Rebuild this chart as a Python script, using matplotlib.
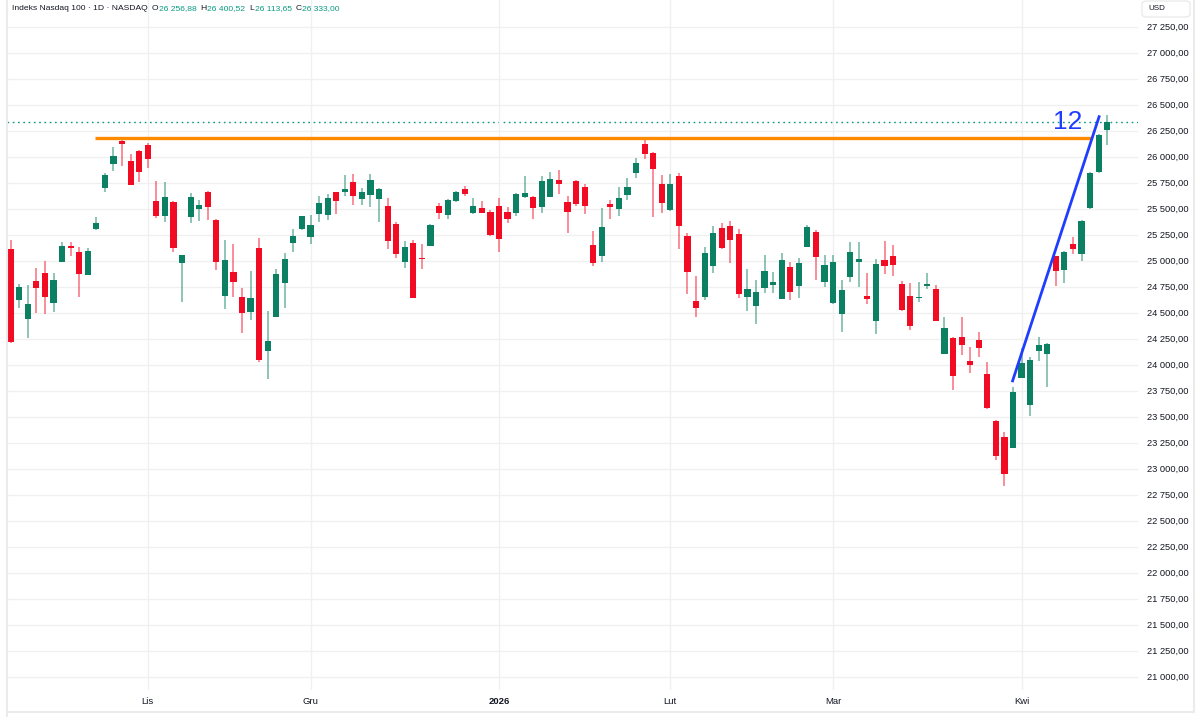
import numpy as np
import matplotlib.pyplot as plt
from matplotlib.lines import Line2D
from matplotlib.patches import FancyBboxPatch

W, H = 1200, 717

# daily OHLC, Nasdaq 100, 10 Oct 2025 .. mid Apr 2026
opens = [25110, 24620, 24440, 24805, 24880, 24595, 24990, 25140, 25085, 24865,
         25305, 25700, 25930, 26150, 25960, 26055, 26115, 25575, 25430, 25565,
         24980, 25420, 25495, 25660, 25390, 24660, 24890, 24650, 24505, 25120,
         24130, 24460, 24785, 25170, 25305, 25230, 25450, 25440, 25660, 25660,
         25755, 25595, 25630, 25595, 25525, 25355, 24990, 25170, 25025, 25140,
         25525, 25440, 25575, 25690, 25460, 25505, 25470, 25525, 25470, 25460,
         25615, 25615, 25515, 25615, 25775, 25565, 25765, 25710, 25150, 25045,
         25545, 25495, 25630, 25845, 26120, 26035, 25740, 25490, 25815, 25240,
         24615, 24650, 24950, 25315, 25335, 25255, 24650, 24565, 24740, 24765,
         24630, 24940, 24755, 25130, 25275, 24795, 24595, 24490, 24845, 24990,
         24660, 24420, 25005, 25045, 24775, 24660, 24640, 24755, 24730, 24105,
         24255, 24265, 24035, 24240, 23910, 23460, 23305, 23200, 23875, 23615,
         24130, 24105, 25045, 24910, 25160, 25065, 25505, 25855, 26256.88]
highs = [25200, 24775, 24765, 24930, 25000, 24880, 25180, 25180, 25130, 25120,
         25420, 25845, 26095, 26185, 26025, 26065, 26135, 25765, 25755, 25570,
         25060, 25650, 25585, 25670, 25400, 25200, 25160, 24740, 24900, 25220,
         24515, 24920, 25075, 25305, 25435, 25440, 25620, 25640, 25665, 25825,
         25835, 25700, 25835, 25700, 25605, 25370, 25190, 25200, 25160, 25355,
         25555, 25595, 25670, 25720, 25605, 25575, 25490, 25605, 25515, 25650,
         25815, 25620, 25815, 25855, 25870, 25620, 25775, 25740, 25285, 25505,
         25585, 25710, 25795, 25990, 26170, 26045, 25825, 25835, 25845, 25265,
         24855, 25130, 25335, 25365, 25380, 25305, 24920, 24815, 25055, 24890,
         25075, 24990, 25025, 25345, 25295, 25055, 25055, 24815, 25180, 25180,
         24880, 25015, 25190, 25150, 24805, 24785, 24795, 24880, 24765, 24460,
         24265, 24460, 24170, 24315, 24025, 23470, 23355, 23785, 24160, 24075,
         24265, 24205, 25050, 25090, 25230, 25390, 25850, 26220, 26400.52]
lows = [24210, 24545, 24255, 24495, 24490, 24505, 24985, 25045, 24650, 24860,
        25295, 25660, 25865, 25915, 25725, 25760, 25895, 25410, 25370, 25085,
        24605, 25365, 25380, 25390, 24910, 24535, 24650, 24305, 24430, 24025,
        23865, 24455, 24545, 25085, 25295, 25160, 25370, 25390, 25450, 25620,
        25535, 25535, 25515, 25370, 25115, 25025, 24930, 24640, 24920, 25140,
        25400, 25400, 25565, 25620, 25450, 25455, 25240, 25085, 25365, 25430,
        25605, 25400, 25460, 25610, 25640, 25265, 25525, 25450, 24950, 24985,
        25400, 25430, 25585, 25795, 25980, 25420, 25460, 25480, 25115, 24680,
        24460, 24620, 24880, 25115, 24980, 24640, 24515, 24390, 24690, 24690,
        24630, 24620, 24640, 25130, 24815, 24745, 24585, 24315, 24795, 24745,
        24585, 24295, 24870, 24855, 24515, 24335, 24605, 24730, 24420, 24100,
        23755, 24095, 23920, 24075, 23575, 23085, 22835, 23195, 23870, 23505,
        24035, 23785, 24755, 24785, 25065, 24995, 25500, 25845, 26113.65]
closes = [24220, 24750, 24585, 24740, 24650, 24815, 25140, 25120, 24870, 25095,
          25365, 25825, 26010, 26120, 25730, 25855, 25980, 25430, 25615, 25120,
          25055, 25615, 25535, 25515, 24990, 25005, 24795, 24495, 24640, 24045,
          24230, 24870, 25015, 25240, 25430, 25345, 25555, 25605, 25575, 25690,
          25620, 25660, 25775, 25690, 25190, 25065, 25130, 24640, 25015, 25345,
          25460, 25585, 25660, 25640, 25525, 25460, 25245, 25210, 25400, 25640,
          25650, 25505, 25765, 25785, 25740, 25470, 25545, 25525, 24980, 25325,
          25515, 25605, 25710, 25940, 26025, 25880, 25555, 25740, 25335, 24890,
          24545, 25075, 25265, 25120, 25200, 24680, 24730, 24700, 24900, 24795,
          25005, 24700, 24980, 25325, 25035, 24960, 24990, 24720, 25085, 25015,
          24630, 24970, 24950, 24960, 24525, 24370, 24650, 24775, 24420, 24355,
          23890, 24190, 24000, 24160, 23585, 23125, 22950, 23740, 24015, 24045,
          24190, 24200, 24900, 25085, 25115, 25380, 25845, 26210, 26333.00]

# first bar of each month (bar index)
month_pos = [16, 35, 57, 77, 96, 118]
month_labels = ['Lis', 'Gru', '2026', 'Lut', 'Mar', 'Kwi']
y_ticks = list(range(21000, 27251, 250))

resistance = 26180
resistance_from, resistance_to = 9.8, 126.2
trend_x = [116.95, 127.05]
trend_y = [23845, 26385]

green = '#0b8062'
red = '#f20c23'
teal = '#089981'
txt = '#131722'

plt.rcParams['font.family'] = ['Liberation Sans', 'DejaVu Sans']

fig = plt.figure(figsize=(12, 7.17), dpi=100)
ax = fig.add_axes([7 / W, 1 - 690 / H, 1131 / W, 690 / H])
ax.set_xlim(-0.43, 131.59)
ax.set_ylim(20873, 27507)

o = np.array(opens)
h = np.array(highs)
l = np.array(lows)
c = np.array(closes)
x = np.arange(len(o))
cols = np.where(c >= o, green, red)

ax.vlines(x, l, h, colors=cols, alpha=0.5, lw=1.3, zorder=2)
body = np.maximum(np.abs(c - o), 12)
bottom = (o + c) / 2 - body / 2
ax.bar(x, body, width=0.72, bottom=bottom, color=cols, zorder=3)

# last price line
ax.axhline(closes[-1], color=teal, lw=1, ls=(0, (1.2, 2.6)), zorder=1)

# drawings
ax.hlines(resistance, resistance_from, resistance_to, color='#ff8a00', lw=2.4, zorder=4)
ax.plot(trend_x, trend_y, color='#1f3dff', lw=2, zorder=5)
ax.text(123.4, 26334, '12', color='#1f3dff', fontsize=19, ha='center', va='center', zorder=6)

# axes / grid
ax.set_yticks(y_ticks)
ax.set_yticklabels([f'{v:,.2f}'.replace(',', ' ').replace('.', ',') for v in y_ticks])
ax.set_xticks(month_pos, month_labels)
ax.get_xticklabels()[2].set_fontweight('bold')
ax.yaxis.tick_right()
ax.grid(True, color='#f0f0f0', lw=1, zorder=0)
ax.tick_params(axis='y', length=0, pad=6.3, labelsize=6.7, labelcolor=txt)
ax.tick_params(axis='x', length=0, pad=5, labelsize=6.8, labelcolor=txt)
for s in ax.spines.values():
    s.set_visible(False)

# header legend, pieces chained left to right
fig.canvas.draw()
rend = fig.canvas.get_renderer()
hy = 1 - 9 / H
xpos = 12
pieces = [('Indeks Nasdaq 100 · 1D · NASDAQ', txt, 4),
          ('O', txt, 0.5), ('26 256,88', teal, 4),
          ('H', txt, 0.5), ('26 400,52', teal, 4),
          ('L', txt, 0.5), ('26 113,65', teal, 4),
          ('C', txt, 0.5), ('26 333,00', teal, 0)]
for s, col, gap in pieces:
    t = fig.text(xpos / W, hy, s, fontsize=6.1, color=col, va='center')
    xpos += t.get_window_extent(rend).width + gap

# currency box
fig.add_artist(FancyBboxPatch((1142 / W, 1 - 17 / H), 48 / W, 16 / H,
                              boxstyle='round,pad=0,rounding_size=0.004',
                              transform=fig.transFigure, fc='white', ec='#e6e6e6', lw=0.8))
fig.text(1148 / W, 1 - 9 / H, 'USD', fontsize=5.8, color=txt, va='center')

# outer frame
fc = '#ebebeb'
fig.add_artist(Line2D([6.5 / W, 6.5 / W], [0, 1], transform=fig.transFigure, color=fc, lw=1.5))
fig.add_artist(Line2D([6.5 / W, 1194 / W], [1 - 712 / H, 1 - 712 / H], transform=fig.transFigure, color=fc, lw=1.5))
fig.add_artist(Line2D([1194 / W, 1194 / W], [1 - 712 / H, 1], transform=fig.transFigure, color=fc, lw=1.5))

fig.savefig('out.png', dpi=100)
